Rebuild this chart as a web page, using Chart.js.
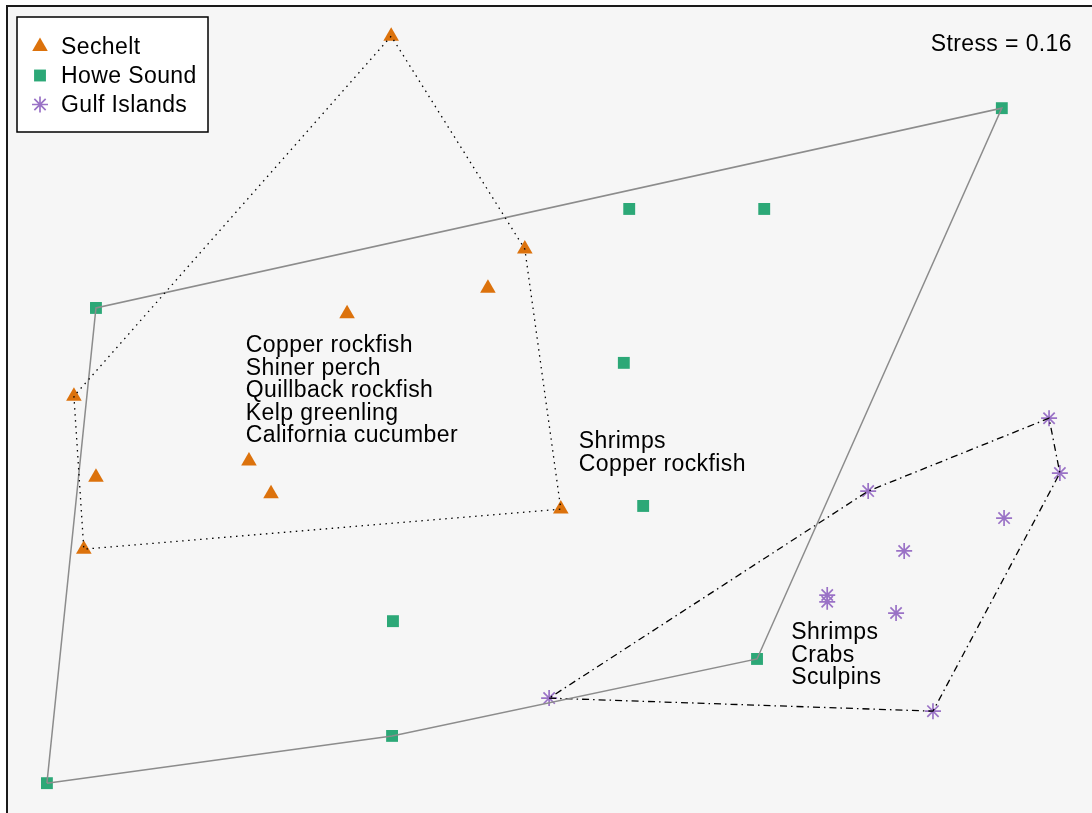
<!DOCTYPE html>
<html>
<head>
<meta charset="utf-8">
<title>NMDS ordination</title>
<script src="https://cdn.jsdelivr.net/npm/chart.js@4"></script>
<style>
  html, body { margin: 0; padding: 0; background: #ffffff; overflow: hidden; }
  canvas { display: block; }
</style>
</head>
<body>
<canvas id="nmds" width="1092" height="813"></canvas>
<script>
// NMDS site scores (NMDS1, NMDS2) per region
const sechelt = [
  [-0.353, 0.853], [-0.056, 0.380], [-0.138, 0.293], [-0.451, 0.236], [-1.058, 0.053],
  [-1.009, -0.127], [-0.669, -0.091], [-0.620, -0.164], [0.024, -0.198], [-1.036, -0.287]
];
const howeSound = [
  [1.004, 0.693], [0.176, 0.469], [0.476, 0.469], [-1.009, 0.249], [0.164, 0.127],
  [0.207, -0.191], [-0.349, -0.447], [0.460, -0.531], [-0.351, -0.702], [-1.118, -0.807]
];
const gulfIslands = [
  [1.109, 0.004], [1.133, -0.118], [0.707, -0.158], [1.009, -0.218], [0.787, -0.291],
  [0.616, -0.389], [0.616, -0.404], [0.769, -0.429], [-0.002, -0.618], [0.851, -0.647]
];
const regionNames = ['Sechelt', 'Howe Sound', 'Gulf Islands'];
const stress = 0.16;

// species driving each cluster
const speciesGroups = [
  { at: [-0.676, 0.165], lines: ['Copper rockfish', 'Shiner perch', 'Quillback rockfish', 'Kelp greenling', 'California cucumber'] },
  { at: [0.064, -0.049], lines: ['Shrimps', 'Copper rockfish'] },
  { at: [0.536, -0.473], lines: ['Shrimps', 'Crabs', 'Sculpins'] }
];

const FONT = '"Liberation Sans", Arial, Helvetica, sans-serif';
const styles = [
  { color: '#dc720c', pointStyle: 'triangle', radius: 9, hullColor: '#000000', dash: [1.5, 4.5], hullWidth: 1.3 },
  { color: '#2ca877', pointStyle: 'rect', radius: 8.4, hullColor: '#8c8c8c', dash: [], hullWidth: 1.5 },
  { color: '#9a72c6', pointStyle: 'star', radius: 8, hullColor: '#000000', dash: [7, 4, 1.5, 4], hullWidth: 1.3 }
];

const toXY = arr => arr.map(p => ({ x: p[0], y: p[1] }));

// convex hull (monotone chain), returned closed
function hull(arr) {
  const pts = arr.slice().sort((a, b) => a[0] - b[0] || a[1] - b[1]);
  const cross = (o, a, b) => (a[0] - o[0]) * (b[1] - o[1]) - (a[1] - o[1]) * (b[0] - o[0]);
  const lower = [], upper = [];
  for (const p of pts) {
    while (lower.length >= 2 && cross(lower[lower.length - 2], lower[lower.length - 1], p) <= 0) lower.pop();
    lower.push(p);
  }
  for (let i = pts.length - 1; i >= 0; i--) {
    const p = pts[i];
    while (upper.length >= 2 && cross(upper[upper.length - 2], upper[upper.length - 1], p) <= 0) upper.pop();
    upper.push(p);
  }
  const h = lower.slice(0, -1).concat(upper.slice(0, -1));
  h.push(h[0]);
  return toXY(h);
}

const groups = [sechelt, howeSound, gulfIslands];

// hull outlines first so they sit on top of the markers
const hullSets = groups.map((g, i) => ({
  label: regionNames[i] + ' hull',
  data: hull(g),
  showLine: true,
  borderColor: styles[i].hullColor,
  borderWidth: styles[i].hullWidth,
  borderDash: styles[i].dash,
  pointRadius: 0,
  fill: false,
  tension: 0
}));
const pointSets = groups.map((g, i) => ({
  label: regionNames[i],
  data: toXY(g),
  pointStyle: styles[i].pointStyle,
  pointRadius: styles[i].radius,
  pointBackgroundColor: styles[i].color,
  pointBorderColor: styles[i].color,
  pointBorderWidth: styles[i].pointStyle === 'star' ? 1.7 : 0
}));

function setLabelFont(ctx) {
  ctx.font = '23px ' + FONT;
  ctx.letterSpacing = '0.4px';
}

// plot panel, species labels, stress and legend box
const panelPlugin = {
  id: 'panel',
  beforeDraw(chart) {
    const { ctx, chartArea: a } = chart;
    ctx.save();
    ctx.fillStyle = '#f6f6f6';
    ctx.fillRect(a.left, a.top, a.right - a.left, a.bottom - a.top);
    ctx.restore();
  },
  afterDraw(chart) {
    const { ctx, chartArea: a, scales } = chart;
    ctx.save();
    ctx.strokeStyle = '#1a1a1a';
    ctx.lineWidth = 2;
    ctx.beginPath();
    ctx.moveTo(a.left, a.bottom + 2);
    ctx.lineTo(a.left, a.top - 1);
    ctx.lineTo(a.right + 2, a.top - 1);
    ctx.stroke();

    ctx.fillStyle = '#000000';
    setLabelFont(ctx);
    ctx.textBaseline = 'middle';
    ctx.textAlign = 'left';
    speciesGroups.forEach(sg => {
      const x = scales.x.getPixelForValue(sg.at[0]);
      const y = scales.y.getPixelForValue(sg.at[1]);
      sg.lines.forEach((t, k) => ctx.fillText(t, x, y + k * 22.5));
    });

    ctx.textAlign = 'right';
    ctx.fillText('Stress = ' + stress.toFixed(2), a.right - 20, a.top + 38);

    // legend
    const lx = a.left + 10, ly = a.top + 10, lw = 191, lh = 115;
    ctx.fillStyle = '#ffffff';
    ctx.fillRect(lx, ly, lw, lh);
    ctx.strokeStyle = '#000000';
    ctx.lineWidth = 1.5;
    ctx.strokeRect(lx, ly, lw, lh);
    regionNames.forEach((name, i) => {
      const y = ly + 30.5 + i * 29;
      const s = styles[i];
      ctx.fillStyle = s.color;
      ctx.strokeStyle = s.color;
      ctx.lineWidth = 1.7;
      Chart.helpers.drawPoint(ctx, {
        pointStyle: s.pointStyle, radius: s.radius, rotation: 0,
        borderWidth: s.pointStyle === 'star' ? 1.7 : 0
      }, lx + 23, y - 1);
      ctx.fillStyle = '#000000';
      ctx.textAlign = 'left';
      ctx.fillText(name, lx + 44, y);
    });
    ctx.restore();
  }
};

new Chart(document.getElementById('nmds'), {
  type: 'scatter',
  data: { datasets: hullSets.concat(pointSets) },
  options: {
    responsive: false,
    animation: false,
    layout: { autoPadding: false, padding: { left: 7, top: 7, right: 0, bottom: 0 } },
    scales: {
      x: { type: 'linear', display: false, min: -1.2067, max: 1.2044 },
      y: { type: 'linear', display: false, min: -0.8733, max: 0.9178 }
    },
    plugins: {
      legend: { display: false },
      tooltip: { enabled: false }
    }
  },
  plugins: [panelPlugin]
});
</script>
</body>
</html>
